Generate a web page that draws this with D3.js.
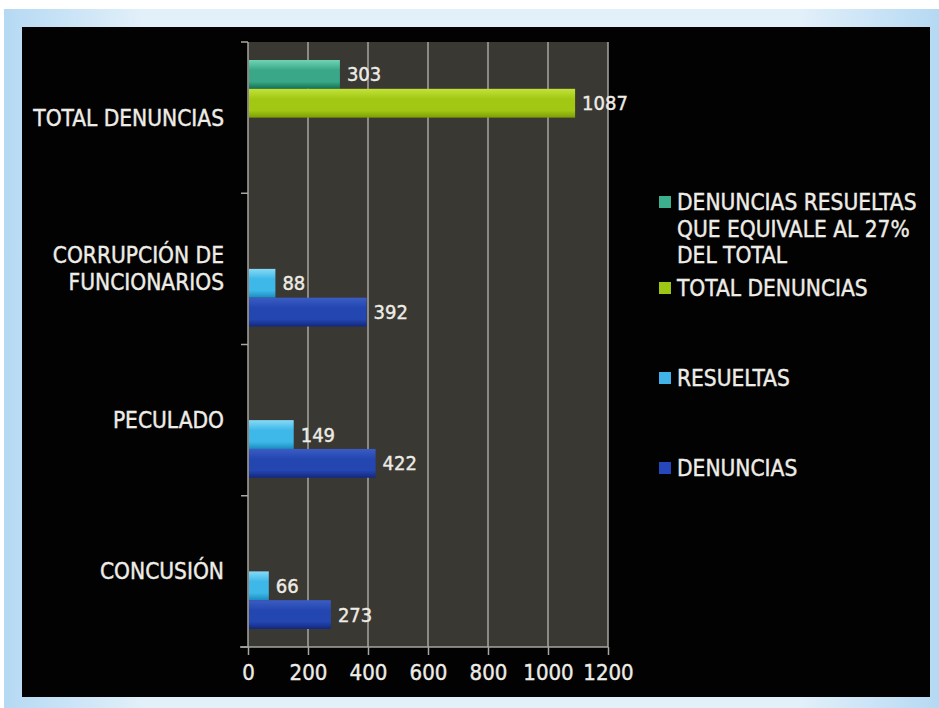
<!DOCTYPE html>
<html>
<head>
<meta charset="utf-8">
<script src="https://cdn.jsdelivr.net/npm/d3@7"></script>
<style>
  html, body { margin: 0; padding: 0; background: #ffffff; }
  svg { display: block; }
  text { font-family: "DejaVu Sans Condensed", "DejaVu Sans", sans-serif; font-stretch: condensed; }
</style>
</head>
<body>
<svg id="chart" width="939" height="708"></svg>
<script>
// ---- data ----
const categories = ["TOTAL DENUNCIAS", "CORRUPCIÓN DE FUNCIONARIOS", "PECULADO", "CONCUSIÓN"];
const categoryLines = [["TOTAL DENUNCIAS"], ["CORRUPCIÓN DE", "FUNCIONARIOS"], ["PECULADO"], ["CONCUSIÓN"]];
const seriesNames = ["DENUNCIAS RESUELTAS QUE EQUIVALE AL 27% DEL TOTAL", "TOTAL DENUNCIAS", "RESUELTAS", "DENUNCIAS"];
const legendLines = [["DENUNCIAS RESUELTAS", "QUE EQUIVALE AL 27%", "DEL TOTAL"], ["TOTAL DENUNCIAS"], ["RESUELTAS"], ["DENUNCIAS"]];
const resueltasTotal = [303, null, null, null];
const totalDenuncias = [1087, null, null, null];
const resueltas = [null, 88, 149, 66];
const denuncias = [null, 392, 422, 273];
const seriesValues = [resueltasTotal, totalDenuncias, resueltas, denuncias];
const xTicks = [0, 200, 400, 600, 800, 1000, 1200];

// ---- layout ----
const svg = d3.select("#chart");
const plot = { left: 248, right: 608, top: 42, bottom: 647 };
const textColor = "#eeece6";

// frame gradient
const defs = svg.append("defs");
const fg = defs.append("linearGradient").attr("id", "frameGrad").attr("x1", 0).attr("x2", 1).attr("y1", 0).attr("y2", 0);
fg.append("stop").attr("offset", "0%").attr("stop-color", "#b5d9f3");
fg.append("stop").attr("offset", "15%").attr("stop-color", "#e2f0fa");
fg.append("stop").attr("offset", "85%").attr("stop-color", "#e2f0fa");
fg.append("stop").attr("offset", "100%").attr("stop-color", "#b5d9f3");

svg.append("rect").attr("x", 4).attr("y", 9).attr("width", 935).attr("height", 699).attr("fill", "url(#frameGrad)");
svg.append("rect").attr("x", 22).attr("y", 27).attr("width", 908).attr("height", 670).attr("fill", "#020202");

// bar gradients
const barColors = [
  ["#6fd4b4", "#3aa888", "#137052"],
  ["#c2e23a", "#a2c814", "#7c9e06"],
  ["#86daf6", "#3eb8e8", "#1a8cc2"],
  ["#3a5cc4", "#2446b0", "#12287e"]
];
const legendColors = ["#3cb08c", "#9cc616", "#40b2e6", "#2646bc"];
barColors.forEach((c, i) => {
  const g = defs.append("linearGradient").attr("id", "bar" + i).attr("x1", 0).attr("x2", 0).attr("y1", 0).attr("y2", 1);
  g.append("stop").attr("offset", "0%").attr("stop-color", c[0]);
  g.append("stop").attr("offset", "35%").attr("stop-color", c[1]);
  g.append("stop").attr("offset", "75%").attr("stop-color", c[1]);
  g.append("stop").attr("offset", "100%").attr("stop-color", c[2]);
});

// scales
const x = d3.scaleLinear().domain([0, 1200]).range([plot.left, plot.right]);
const y = d3.scaleBand().domain(categories).range([plot.top, plot.bottom]);
const yInner = d3.scaleBand().domain(seriesNames).range([18, y.bandwidth() - 18]);

// plot background
svg.append("rect").attr("x", plot.left).attr("y", plot.top)
  .attr("width", plot.right - plot.left).attr("height", plot.bottom - plot.top)
  .attr("fill", "#3a3832");

// gridlines
svg.append("g").selectAll("line").data(xTicks.slice(1)).join("line")
  .attr("x1", d => x(d)).attr("x2", d => x(d))
  .attr("y1", plot.top).attr("y2", plot.bottom)
  .attr("stroke", "#a8a6a0").attr("stroke-width", 1.5);

// bars
const barData = [];
seriesValues.forEach((vals, si) => vals.forEach((v, ci) => {
  if (v != null) barData.push({ s: seriesNames[si], si, c: categories[ci], v });
}));
svg.append("g").selectAll("rect").data(barData).join("rect")
  .attr("x", x(0) + 1)
  .attr("y", d => y(d.c) + yInner(d.s))
  .attr("width", d => x(d.v) - x(0))
  .attr("height", yInner.bandwidth())
  .attr("fill", d => "url(#bar" + d.si + ")");

// value labels
svg.append("g").selectAll("text").data(barData).join("text")
  .attr("x", d => x(d.v) + 8)
  .attr("y", d => y(d.c) + yInner(d.s) + yInner.bandwidth() / 2 + 7)
  .attr("fill", textColor).attr("stroke", textColor).attr("stroke-width", 0.4)
  .attr("font-size", 20)
  .text(d => d.v);

// x axis
const xAxis = d3.axisBottom(x).tickValues(xTicks).tickSize(8).tickFormat(d3.format("d"));
const gx = svg.append("g").attr("transform", `translate(0,${plot.bottom})`).call(xAxis);
gx.select(".domain").attr("stroke", "#a8a6a0").attr("stroke-width", 1.5).attr("d", `M${plot.left - 8},0H${plot.right}`);
gx.selectAll(".tick line").attr("stroke", "#a8a6a0").attr("stroke-width", 1.5);
gx.selectAll(".tick text").attr("fill", textColor).attr("stroke", textColor).attr("stroke-width", 0.4)
  .attr("font-size", 22)
  .attr("font-family", "DejaVu Sans Condensed, DejaVu Sans, sans-serif").attr("dy", "1.0em");

// y axis (category separators)
const yAxis = d3.axisLeft(y).tickSize(0).tickFormat("");
const gy = svg.append("g").attr("transform", `translate(${plot.left},0)`).call(yAxis);
gy.select(".domain").attr("stroke", "#a8a6a0").attr("stroke-width", 1.5).attr("d", `M0,${plot.top}V${plot.bottom}`);
const seps = categories.map(c => y(c)).concat([plot.bottom]);
gy.selectAll("line.sep").data(seps).join("line").attr("class", "sep")
  .attr("x1", -7).attr("x2", 0).attr("y1", d => d).attr("y2", d => d)
  .attr("stroke", "#a8a6a0").attr("stroke-width", 1.5);

// category labels
const catG = svg.append("g");
categories.forEach((c, i) => {
  const lines = categoryLines[i];
  const cy = y(c) + y.bandwidth() / 2;
  const lh = 27;
  lines.forEach((ln, k) => {
    catG.append("text")
      .attr("x", 224)
      .attr("y", cy + (k - (lines.length - 1) / 2) * lh + 8)
      .attr("text-anchor", "end").attr("fill", textColor).attr("stroke", textColor).attr("stroke-width", 0.4)
      .attr("font-size", 22.5)
      .text(ln);
  });
});

// legend
const legendY = [202, 288, 378, 468];
const lg = svg.append("g");
seriesNames.forEach((s, i) => {
  lg.append("rect").attr("x", 659).attr("y", legendY[i] - 6).attr("width", 12).attr("height", 12)
    .attr("fill", legendColors[i]);
  legendLines[i].forEach((ln, k) => {
    lg.append("text").attr("x", 677).attr("y", legendY[i] + k * 26.5 + 8)
      .attr("fill", textColor).attr("stroke", textColor).attr("stroke-width", 0.4)
      .attr("font-size", 22.5).text(ln);
  });
});
</script>
</body>
</html>
